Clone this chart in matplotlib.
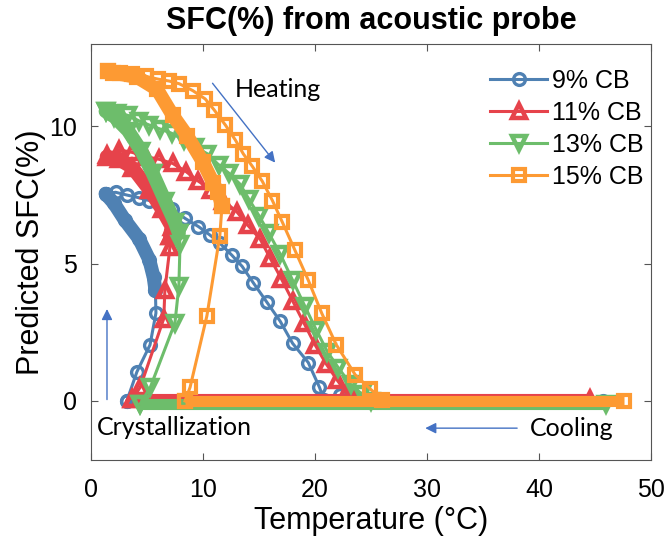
import matplotlib
matplotlib.use('Agg')
import matplotlib.pyplot as plt

plt.rcParams['font.family'] = ['Liberation Sans', 'DejaVu Sans']

# 9% CB
b_base_T = [45.7, 3.2]
b_base_S = [0.0, 0.0]
b_rise_T = [3.2, 4.1, 5.27, 5.8, 5.75]
b_rise_S = [0.0, 1.06, 2.04, 3.2, 4.05]
b_blob_T = [5.75, 5.6, 5.2, 4.3, 3.0, 2.05, 1.3]
b_blob_S = [4.05, 4.5, 5.15, 5.9, 6.6, 7.2, 7.55]
b_heat_T = [1.3, 2.2, 3.2, 4.3, 5.2, 6.1, 7.2, 8.4, 9.6, 10.6, 11.5, 12.6, 13.5, 14.5,
            15.7, 16.9, 18.0, 19.4, 20.4, 20.8, 22.2, 23.2]
b_heat_S = [7.55, 7.6, 7.5, 7.4, 7.3, 7.2, 7.0, 6.65, 6.35, 6.05, 5.75, 5.3, 4.9, 4.3,
            3.6, 2.9, 2.1, 1.4, 0.5, 0.05, 0.2, 0.05]

# 11% CB
r_base_T = [44.6, 3.7]
r_base_S = [0.08, 0.08]
r_rise_T = [3.7, 4.4, 6.5, 6.6, 7.05, 7.05]
r_rise_S = [0.08, 0.5, 3.0, 4.05, 5.6, 6.0]
r_blob_T = [7.05, 7.2, 6.3, 5.2, 3.7, 2.5, 1.4]
r_blob_S = [6.0, 6.35, 7.0, 7.7, 8.5, 8.8, 8.9]
r_heat_T = [1.4, 2.5, 3.7, 4.9, 6.1, 7.3, 8.5, 9.6, 10.7, 11.8, 13.0, 14.0, 15.1, 16.0,
            17.0, 18.0, 19.0, 20.0, 21.0, 22.0, 22.8, 23.6]
r_heat_S = [8.95, 9.15, 9.05, 8.9, 8.8, 8.65, 8.35, 8.0, 7.7, 7.3, 6.9, 6.4, 5.9, 5.2,
            4.45, 3.65, 2.85, 2.05, 1.35, 0.75, 0.3, 0.1]

# 13% CB
g_base_T = [46.0, 4.4]
g_base_S = [-0.1, -0.1]
g_rise_T = [4.4, 5.3, 7.5, 7.85, 7.95, 7.85]
g_rise_S = [-0.1, 0.5, 2.85, 4.2, 5.7, 6.1]
g_blob_T = [7.85, 7.5, 6.6, 5.5, 4.5, 3.3, 2.1, 1.3]
g_blob_S = [6.1, 6.5, 7.3, 8.3, 9.1, 9.85, 10.35, 10.55]
g_heat_T = [1.3, 2.3, 3.3, 4.3, 5.2, 6.2, 7.2, 8.3, 9.3, 10.4, 11.4, 12.3, 13.3, 14.1,
            15.0, 15.9, 16.9, 18.0, 19.1, 20.1, 21.1, 22.1, 23.2, 24.2, 25.0]
g_heat_S = [10.55, 10.5, 10.4, 10.2, 10.05, 9.9, 9.75, 9.5, 9.25, 9.0, 8.6, 8.3, 7.9, 7.35,
            6.75, 6.1, 5.35, 4.4, 3.45, 2.6, 1.8, 1.2, 0.6, 0.25, 0.0]

# 15% CB
o_base_T = [47.6, 8.4]
o_base_S = [0.0, 0.0]
o_rise_T = [8.4, 8.85, 10.35, 11.5, 11.7]
o_rise_S = [0.0, 0.5, 3.1, 6.0, 7.1]
o_blob_T = [11.7, 11.35, 10.9, 10.0, 8.6, 7.3, 5.9, 4.1, 2.0, 1.5]
o_blob_S = [7.1, 7.6, 7.95, 8.7, 9.65, 10.4, 11.35, 11.8, 11.95, 12.0]
o_heat_T = [1.5, 2.6, 3.7, 4.9, 6.0, 7.0, 7.9, 9.1, 10.2, 11.0, 12.0, 12.9, 13.6, 14.4,
            15.3, 16.2, 17.1, 18.2, 19.4, 20.6, 21.9, 23.6, 24.9, 26.0]
o_heat_S = [12.0, 11.95, 11.9, 11.82, 11.72, 11.65, 11.55, 11.3, 11.0, 10.6, 10.05, 9.5, 9.0, 8.55,
            8.0, 7.3, 6.5, 5.5, 4.4, 3.2, 2.05, 0.95, 0.45, 0.05]

labels = ['9% CB', '11% CB', '13% CB', '15% CB']
colors = ['#4f81b3', '#e6434b', '#6dbd6b', '#fd9a33']
markers = ['o', '^', 'v', 's']
msizes = [8.5, 10, 10, 8]
medges = [2.4, 3.2, 3.2, 3.0]

fig = plt.figure(figsize=(6.66, 5.46), dpi=100)
ax = fig.add_axes([0.1366, 0.1575, 0.8408, 0.7619])

series = [
    (b_base_T, b_base_S, b_rise_T, b_rise_S, b_blob_T, b_blob_S, b_heat_T, b_heat_S),
    (r_base_T, r_base_S, r_rise_T, r_rise_S, r_blob_T, r_blob_S, r_heat_T, r_heat_S),
    (g_base_T, g_base_S, g_rise_T, g_rise_S, g_blob_T, g_blob_S, g_heat_T, g_heat_S),
    (o_base_T, o_base_S, o_rise_T, o_rise_S, o_blob_T, o_blob_S, o_heat_T, o_heat_S),
]

for s, lab, c, m, ms, mw in zip(series, labels, colors, markers, msizes, medges):
    baseT, baseS, riseT, riseS, blobT, blobS, heatT, heatS = s
    mk = dict(marker=m, ms=ms, mfc='none', mec=c, mew=mw)
    # dense regions (baseline and crystallisation blob) drawn as a thick band
    ax.plot(baseT, baseS, color=c, lw=8, solid_capstyle='butt', **mk)
    ax.plot(riseT, riseS, color=c, lw=2.2, **mk)
    ax.plot(blobT, blobS, color=c, lw=10, solid_capstyle='round', solid_joinstyle='round', **mk)
    ax.plot(heatT, heatS, color=c, lw=2.2, label=lab, **mk)

ax.set_xlim(0, 50)
ax.set_ylim(-2.15, 13)
ax.set_xticks([0, 10, 20, 30, 40, 50])
ax.set_yticks([0, 5, 10])
ax.tick_params(direction='in', top=True, right=True, labelsize=18, length=5,
               color='#555555')
ax.tick_params(axis='x', pad=13)
ax.tick_params(axis='y', pad=10)
for sp in ax.spines.values():
    sp.set_color('#555555')

ax.set_title('SFC(%) from acoustic probe', fontsize=22, fontweight='bold', pad=11)
ax.set_xlabel('Temperature (°C)', fontsize=22, labelpad=3)
ax.set_ylabel('Predicted SFC(%)', fontsize=22, labelpad=2)

ax.legend(loc='upper left', bbox_to_anchor=(0.672, 0.995), frameon=False, fontsize=18,
          handlelength=2.3, labelspacing=0.32, handletextpad=0.2)

arrow_c = '#4472c4'
ap = dict(arrowstyle='-|>', color=arrow_c, lw=1, mutation_scale=16)
ax.annotate('', xy=(16.6, 8.6), xytext=(10.7, 11.65), arrowprops=ap)
ax.annotate('', xy=(1.43, 3.45), xytext=(1.43, -0.05), arrowprops=ap)
ax.annotate('', xy=(29.6, -0.99), xytext=(38.3, -0.99), arrowprops=ap)

tf = dict(family=['Lato', 'DejaVu Sans'], fontsize=18, va='center')
ax.text(12.8, 11.35, 'Heating', ha='left', **tf)
ax.text(0.5, -0.95, 'Crystallization', ha='left', **tf)
ax.text(39.2, -0.99, 'Cooling', ha='left', **tf)

fig.savefig('out.png', dpi=100)
